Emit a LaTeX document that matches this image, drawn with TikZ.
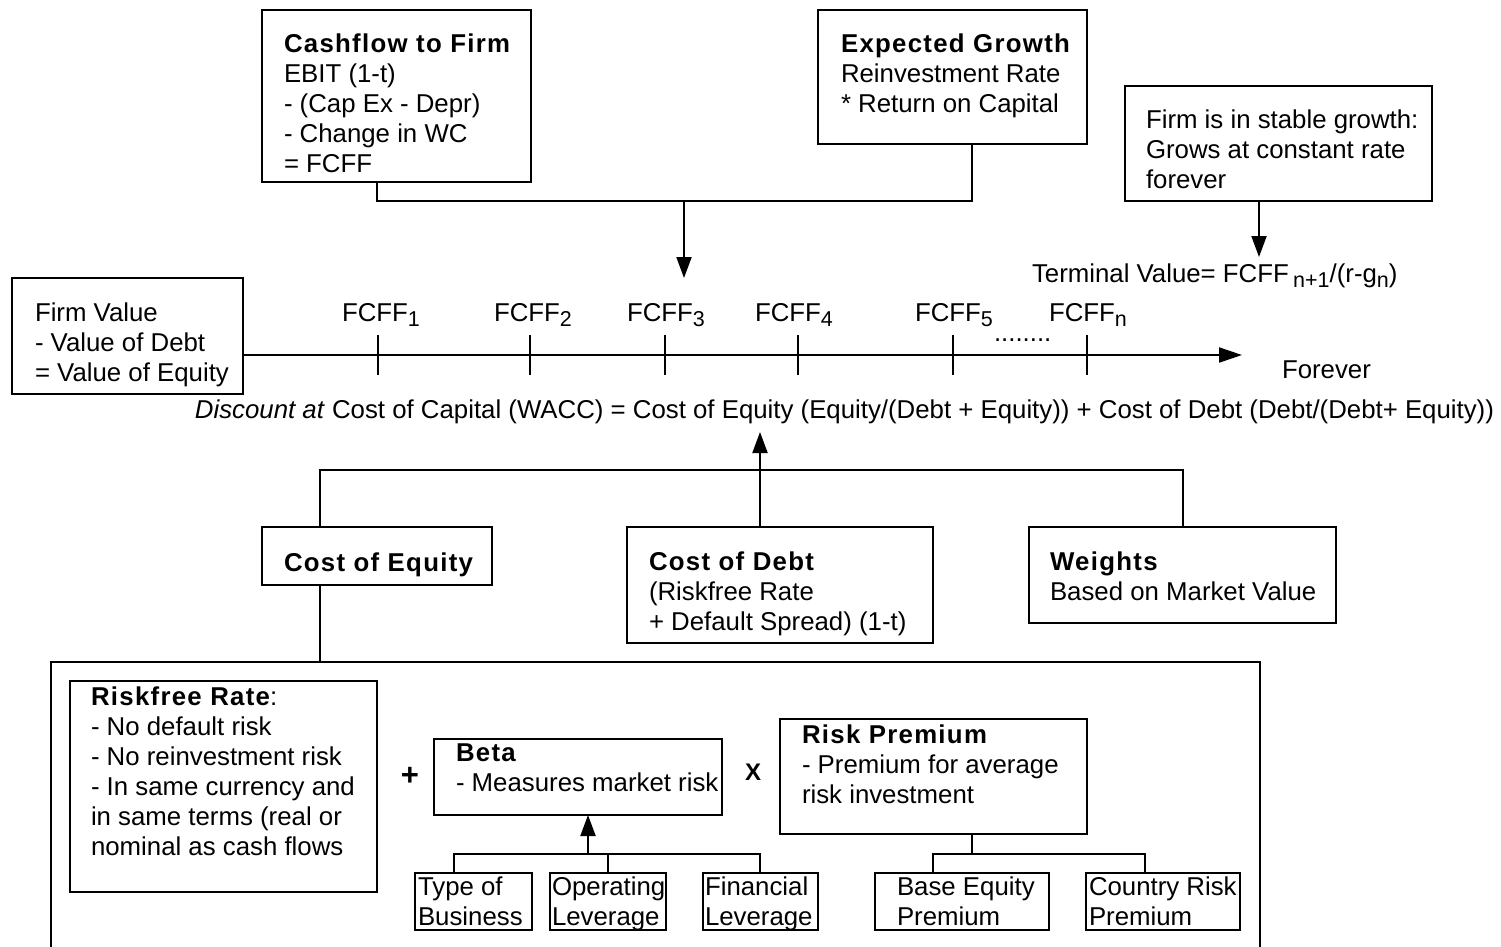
\documentclass[tikz,border=0pt]{standalone}
\usepackage{fontspec}
\setmainfont{Liberation Sans}
\newfontface\bsf[LetterSpace=5]{Liberation Sans Bold}
\usetikzlibrary{arrows.meta}
\newcommand\fs{\fontsize{25.8}{30}\selectfont}
\newcommand\sbx[1]{\raisebox{-5pt}{\fontsize{21.5}{21.5}\selectfont #1}}
\newcommand\hd[1]{{\bsf #1}}
\begin{document}
\begin{tikzpicture}[x=1pt,y=-1pt,
  box/.style={draw, line width=2pt, anchor=north west, inner sep=0pt, outer sep=0pt},
  txt/.style={anchor=north west, inner sep=0pt, outer sep=0pt, align=left, yshift=21pt, font=\fs, execute at begin node=\strut},
  one/.style={anchor=base west, inner sep=0pt, outer sep=0pt, font=\fs},
  ln/.style={line width=2pt},
  arr/.style={line width=2pt, -{Triangle[length=21pt,width=15pt]}},
  tick/.style={line width=1.3pt}]
\useasboundingbox[fill=white] (0,0) rectangle (1501,946);

% ---------- boxes ----------
\node[box, minimum width=269pt, minimum height=172pt] (cf) at (262,10) {};
\node[box, minimum width=269pt, minimum height=134pt] (eg) at (818,10) {};
\node[box, minimum width=307pt, minimum height=115pt] (sg) at (1125,86) {};
\node[box, minimum width=231pt, minimum height=116pt] (fv) at (12,278) {};
\node[box, minimum width=230pt, minimum height=58pt]  (ce) at (262,527) {};
\node[box, minimum width=306pt, minimum height=116pt] (cd) at (627,527) {};
\node[box, minimum width=307pt, minimum height=96pt]  (wt) at (1029,527) {};
\node[box, minimum width=307pt, minimum height=211pt] (rf) at (70,681) {};
\node[box, minimum width=288pt, minimum height=76pt]  (beta) at (434,739) {};
\node[box, minimum width=307pt, minimum height=115pt] (rp) at (780,719) {};
\node[box, minimum width=117pt, minimum height=57pt]  (tb) at (415,873) {};
\node[box, minimum width=116pt, minimum height=57pt]  (ol) at (550,873) {};
\node[box, minimum width=115pt, minimum height=57pt]  (fl) at (703,873) {};
\node[box, minimum width=174pt, minimum height=57pt]  (be) at (875,873) {};
\node[box, minimum width=154pt, minimum height=57pt]  (cr) at (1086,873) {};

% big open box
\draw[ln] (51,950) -- (51,662) -- (1260,662) -- (1260,950);

% ---------- texts ----------
\node[txt] (cft) at (284,55) {\hd{Cashflow to Firm}\\EBIT (1-t)\\- (Cap Ex - Depr)\\- Change in WC\\= FCFF};
\node[txt] (egt) at (841,55) {\hd{Expected Growth}\\Reinvestment Rate\\* Return on Capital};
\node[txt] (sgt) at (1146,131) {Firm is in stable growth:\\Grows at constant rate\\forever};
\node[txt] (fvt) at (35,324) {Firm Value\\- Value of Debt\\= Value of Equity};
\node[txt] (cet) at (284,571) {\hd{Cost of Equity}};
\node[txt] (cdt) at (649,573) {\hd{Cost of Debt}\\(Riskfree Rate\\+ Default Spread) (1-t)};
\node[txt] (wtt) at (1050,573) {\hd{Weights}\\Based on Market Value};
\node[txt] (rft) at (91,708) {\hd{Riskfree Rate}:\\- No default risk\\- No reinvestment risk\\- In same currency and\\in same terms (real or\\nominal as cash flows};
\node[txt] (betat) at (456,765) {\hd{Beta}\\- Measures market risk};
\node[txt] (rpt) at (802,746) {\hd{Risk Premium}\\- Premium for average\\risk investment};
\node[txt] (tbt) at (418,898) {Type of\\Business};
\node[txt] (olt) at (552,898) {Operating\\Leverage};
\node[txt] (flt) at (705,898) {Financial\\Leverage};
\node[txt] (bet) at (897,898) {Base Equity\\Premium};
\node[txt] (crt) at (1089,898) {Country Risk\\Premium};

\node[inner sep=0pt, font=\fontsize{31}{31}\bfseries] (plus) at (410,776) {+};
\node[inner sep=0pt, font=\fontsize{24}{24}\bfseries] (times) at (753,772) {X};

% ---------- timeline ----------
\coordinate (tlend) at (1242,355);
\draw[line width=2pt, -{Triangle[length=23pt,width=15pt]}] (fv.east |- tlend) -- (tlend);
\foreach \x in {378,530,665,798,953,1087} \draw[tick] (\x,335) -- (\x,375);
\node[one] (f1) at (342,321) {FCFF\sbx{1}};
\node[one] (f2) at (494,321) {FCFF\sbx{2}};
\node[one] (f3) at (627,321) {FCFF\sbx{3}};
\node[one] (f4) at (755,321) {FCFF\sbx{4}};
\node[one] (f5) at (915,321) {FCFF\sbx{5}};
\node[one] (fn) at (1049,321) {FCFF\sbx{n}};
\node[one] (dots) at (994,341) {........};
\node[one] (forever) at (1282,378) {Forever};
\node[one] (tv) at (1032,282) {Terminal Value= FCFF\,\sbx{n+1}/(r-g\sbx{n})};
\node[inner sep=0pt, outer sep=0pt, font=\fs, anchor=base east] (wacc) at (1494,418)
  {\textit{Discount at} Cost of Capital (WACC) = Cost of Equity (Equity/(Debt + Equity)) + Cost of Debt (Debt/(Debt+ Equity))};

% ---------- connectors ----------
\coordinate (j1) at (684,201);
\coordinate (a1) at (684,278);
\draw[ln] ([xshift=115pt]cf.south west) |- (j1) -| ([xshift=153.5pt]eg.south west);
\draw[arr] (j1) -- (a1);

\coordinate (a2) at (1259,257);
\draw[arr] ([xshift=134pt]sg.south west) -- (a2);

\coordinate (j2) at (760,470);
\coordinate (a3) at (760,432);
\draw[ln] ([xshift=58pt]ce.north west) |- (j2) -| ([xshift=154pt]wt.north west);
\draw[arr] ([xshift=133pt]cd.north west) -- (a3);

\coordinate (bt) at (320,662);
\draw[ln] ([xshift=58pt]ce.south west) -- (bt);

\coordinate (j3) at (588,854);
\draw[ln] ([xshift=39pt]tb.north west) |- (j3) -| ([xshift=57pt]fl.north west);
\draw[ln] (ol.north) -- (ol.north |- j3);
\draw[arr] (j3) -- ([xshift=154pt]beta.south west);

\coordinate (j4) at (971.5,854);
\draw[ln] ([xshift=191.5pt]rp.south west) -- (j4);
\draw[ln] ([xshift=58pt]be.north west) |- (j4) -| ([xshift=59pt]cr.north west);
\end{tikzpicture}
\end{document}
